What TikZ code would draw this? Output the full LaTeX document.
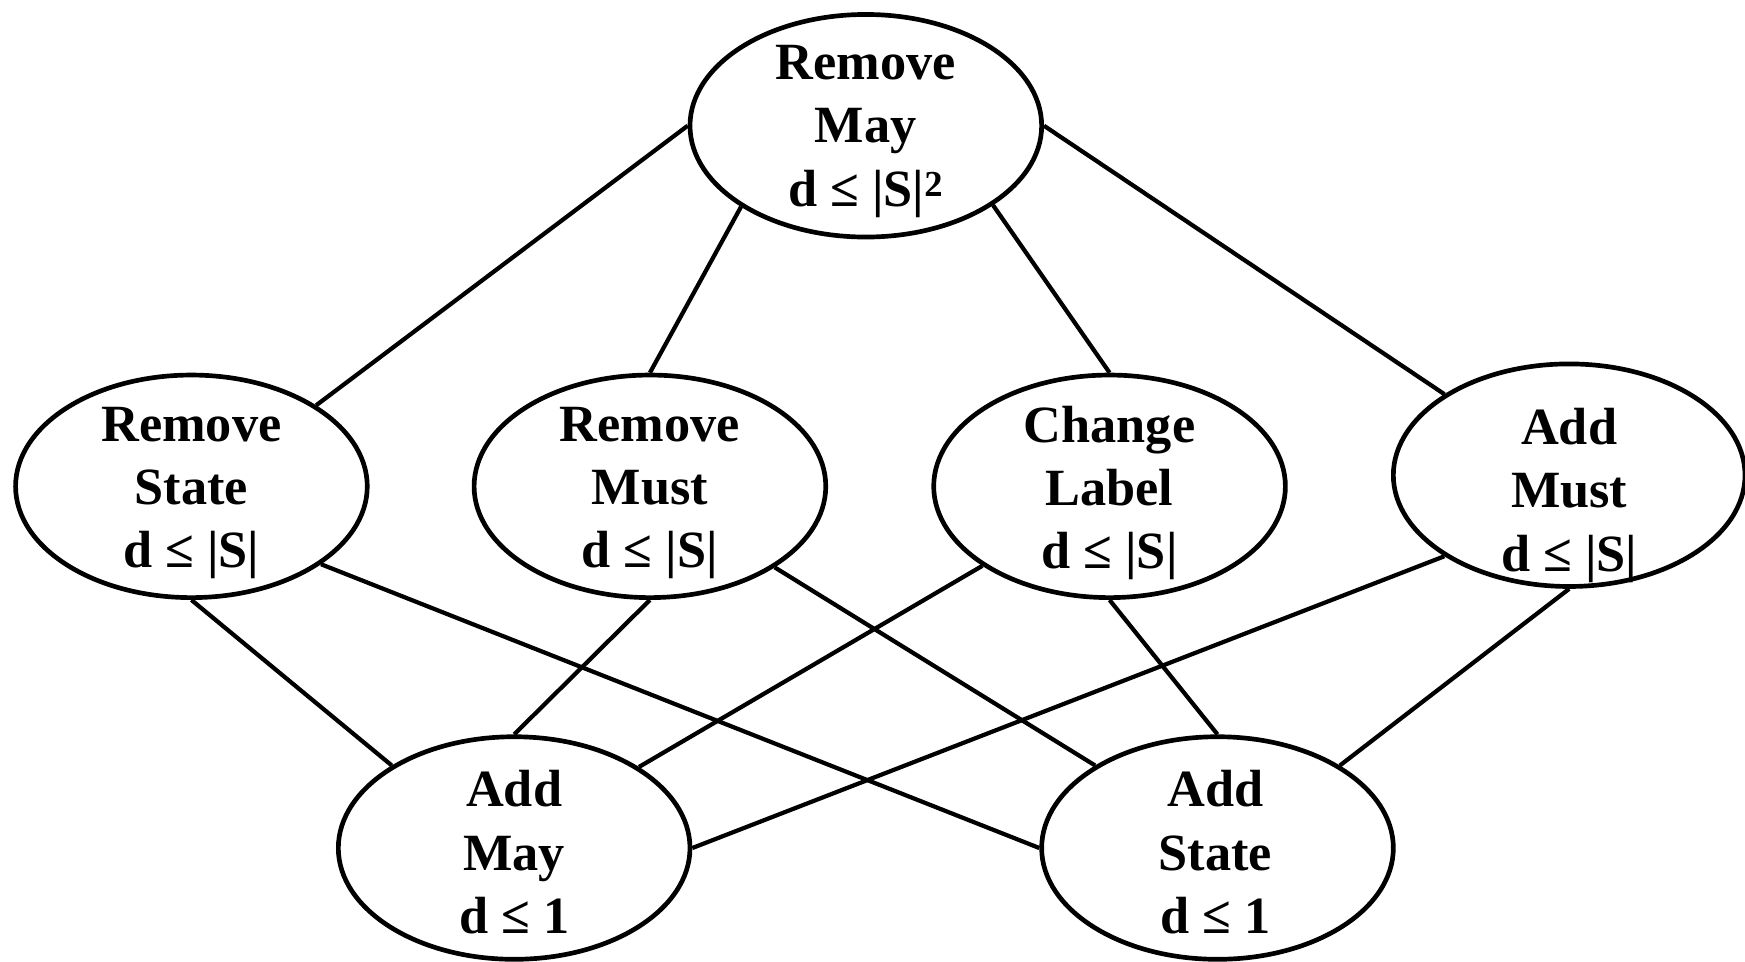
\documentclass[tikz,border=0pt]{standalone}
\usepackage{fontspec}
\setmainfont{Liberation Serif}
\usetikzlibrary{shapes.geometric}
\begin{document}
\begin{tikzpicture}[x=1pt,y=-1pt,
  opbox/.style={draw, ellipse, line width=4.2pt, minimum width=316pt, minimum height=200pt, inner sep=0pt},
  oplabel/.style={align=center, inner sep=0pt, font=\fontsize{47}{57}\selectfont\bfseries},
  link/.style={line width=3.8pt}]
\useasboundingbox (0,0) rectangle (1568,864);

% operation ellipses
\node[opbox] (rmay)   at (778,113)  {};
\node[opbox] (rstate) at (172,437)  {};
\node[opbox] (rmust)  at (584,437)  {};
\node[opbox] (clabel) at (997,437)  {};
\node[opbox] (amust)  at (1410,427) {};
\node[opbox] (amay)   at (462,762)  {};
\node[opbox] (astate) at (1094,762) {};

% operation names and distance bounds
\node[oplabel] (trmay)   at (778,118)  {Remove\\May\\d ≤ |S|\textsuperscript{2}};
\node[oplabel] (trstate) at (172,443)  {Remove\\State\\d ≤ |S|};
\node[oplabel] (trmust)  at (584,443)  {Remove\\Must\\d ≤ |S|};
\node[oplabel] (tclabel) at (997,443)  {Change\\Label\\d ≤ |S|};
\node[oplabel] (tamust)  at (1410,445) {Add\\Must\\d ≤ |S|};
\node[oplabel] (tamay)   at (462,766)  {Add\\May\\d ≤ 1};
\node[oplabel] (tastate) at (1092,766) {Add\\State\\d ≤ 1};

% connections
\draw[link] (rstate.33)  -- (rmay.180);
\draw[link] (rmust.90)   -- (rmay.213);
\draw[link] (clabel.90)  -- (rmay.328);
\draw[link] (amust.147)  -- (rmay.0);
\draw[link] (rstate.270) -- (amay.146);
\draw[link] (rstate.329) -- (astate.180);
\draw[link] (rmust.270)  -- (amay.90);
\draw[link] (rmust.327)  -- (astate.146);
\draw[link] (clabel.212) -- (amay.33);
\draw[link] (clabel.270) -- (astate.90);
\draw[link] (amust.213)  -- (amay.0);
\draw[link] (amust.270)  -- (astate.34);
\end{tikzpicture}
\end{document}
